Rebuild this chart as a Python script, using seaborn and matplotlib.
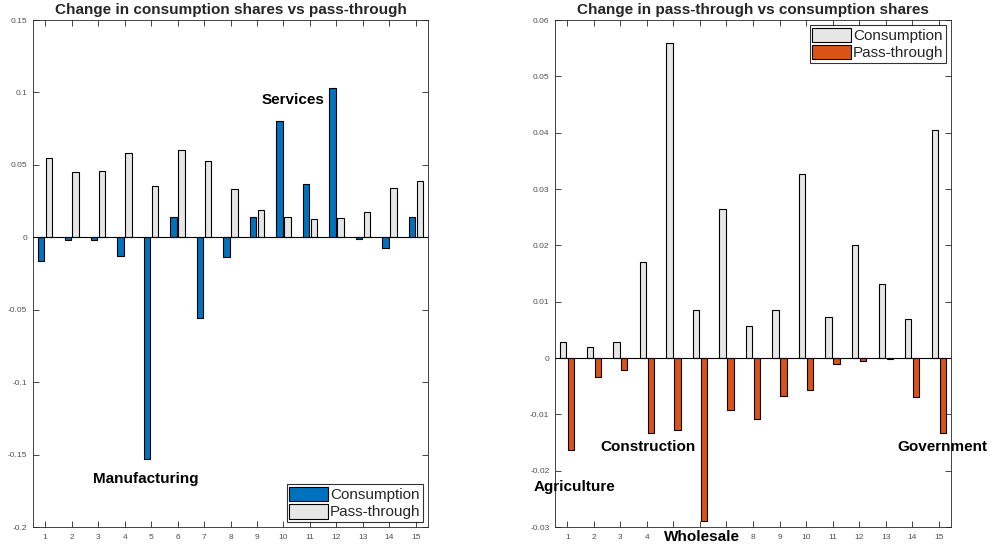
import matplotlib
matplotlib.use("Agg")
import matplotlib.pyplot as plt
from matplotlib.patches import Patch
import numpy as np
import pandas as pd
import seaborn as sns

# ---------------- data ----------------
sectors = [str(i) for i in range(1, 16)]

left_consumption = [-0.0164, -0.002, -0.002, -0.013, -0.153, 0.0143, -0.0557, -0.0136,
                    0.0143, 0.080, 0.0366, 0.103, -0.001, -0.0076, 0.0143]
left_passthrough = [0.055, 0.0453, 0.046, 0.0584, 0.0357, 0.0603, 0.0527, 0.0334,
                    0.0189, 0.0143, 0.0129, 0.0136, 0.0177, 0.034, 0.0389]

right_consumption = [0.0029, 0.00195, 0.0028, 0.0171, 0.056, 0.0086, 0.0264, 0.0056,
                     0.0085, 0.0326, 0.0072, 0.020, 0.0132, 0.0070, 0.0404]
right_passthrough = [-0.0164, -0.0034, -0.0022, -0.0133, -0.0127, -0.0289, -0.0092, -0.0109,
                     -0.0068, -0.0056, -0.0010, -0.0006, -0.0001, -0.0070, -0.0133]

series_names = ["Consumption", "Pass-through"]
left_yticks = [-0.2, -0.15, -0.1, -0.05, 0, 0.05, 0.1, 0.15]
right_yticks = [-0.03, -0.02, -0.01, 0, 0.01, 0.02, 0.03, 0.04, 0.05, 0.06]

left_title = "Change in consumption shares vs pass-through"
right_title = "Change in pass-through vs consumption shares"

left_labels = ["Services", "Manufacturing"]
left_label_pos = [(9.36, 0.0945), (3.78, -0.167)]
right_labels = ["Construction", "Agriculture", "Wholesale", "Government"]
right_label_pos = [(3.03, -0.01575), (0.29, -0.0229), (5.07, -0.0317), (14.15, -0.01575)]
# tick labels hidden behind the "Wholesale" label in the reference
right_hidden_ticks = ["5", "6", "7"]

BLUE = "#0072BD"
ORANGE = "#D95319"
GREY = "#E6E6E6"

# ---------------- style ----------------
sns.set_theme(style="white")
plt.rcParams["font.family"] = ["Liberation Sans", "DejaVu Sans"]

fig = plt.figure(figsize=(9.95, 5.5), dpi=100)
ax1 = fig.add_axes([0.0332, 0.0418, 0.397, 0.9218])
ax2 = fig.add_axes([0.5578, 0.0418, 0.398, 0.9218])


def make_df(cons, pt):
    return pd.DataFrame({
        "sector": sectors * 2,
        "series": [series_names[0]] * len(sectors) + [series_names[1]] * len(sectors),
        "value": list(cons) + list(pt),
    })


def draw(ax, df, colors, yticks, title, labels, label_pos, legend_loc, hidden=()):
    sns.barplot(data=df, x="sector", y="value", hue="series", hue_order=series_names,
                order=sectors, palette=colors, width=0.6, gap=0.2, saturation=1,
                edgecolor="black", linewidth=0.8, ax=ax, legend=False, errorbar=None)
    ax.axhline(0, color="black", lw=0.8, zorder=3)
    ax.set_xlim(-0.46, 14.46)
    ax.set_ylim(yticks[0], yticks[-1])
    ax.set_yticks(yticks)
    ax.set_yticklabels([f"{v:g}" for v in yticks])
    ax.set_xlabel("")
    ax.set_ylabel("")
    ax.tick_params(axis="both", direction="in", length=4, width=0.6, labelsize=6,
                   colors="#262626", labelcolor="#505050", top=True, right=True,
                   bottom=True, left=True)
    ax.tick_params(axis="x", pad=5)
    ax.tick_params(axis="y", pad=4)
    for t in ax.get_xticklabels():
        if t.get_text() in hidden:
            t.set_visible(False)
    for sp in ax.spines.values():
        sp.set_color("#262626")
        sp.set_linewidth(0.6)
    ax.set_title(title, fontsize=11, fontweight="bold", pad=4)
    for lab, (x, y) in zip(labels, label_pos):
        ax.text(x, y, lab, ha="center", va="center", fontsize=11, fontweight="bold",
                color="black", clip_on=False, zorder=5)
    handles = [Patch(facecolor=c, edgecolor="black", linewidth=0.8) for c in colors]
    leg = ax.legend(handles, series_names, loc=legend_loc, fontsize=11, frameon=True,
                    fancybox=False, edgecolor="black", handlelength=2.5, handleheight=1.1,
                    borderpad=0.15, labelspacing=0.1, handletextpad=0.15,
                    borderaxespad=0.35)
    leg.get_frame().set_linewidth(0.8)


draw(ax1, make_df(left_consumption, left_passthrough), [BLUE, GREY], left_yticks,
     left_title, left_labels, left_label_pos, "lower right")
draw(ax2, make_df(right_consumption, right_passthrough), [GREY, ORANGE], right_yticks,
     right_title, right_labels, right_label_pos, "upper right", right_hidden_ticks)

fig.savefig("out.png", dpi=100)
